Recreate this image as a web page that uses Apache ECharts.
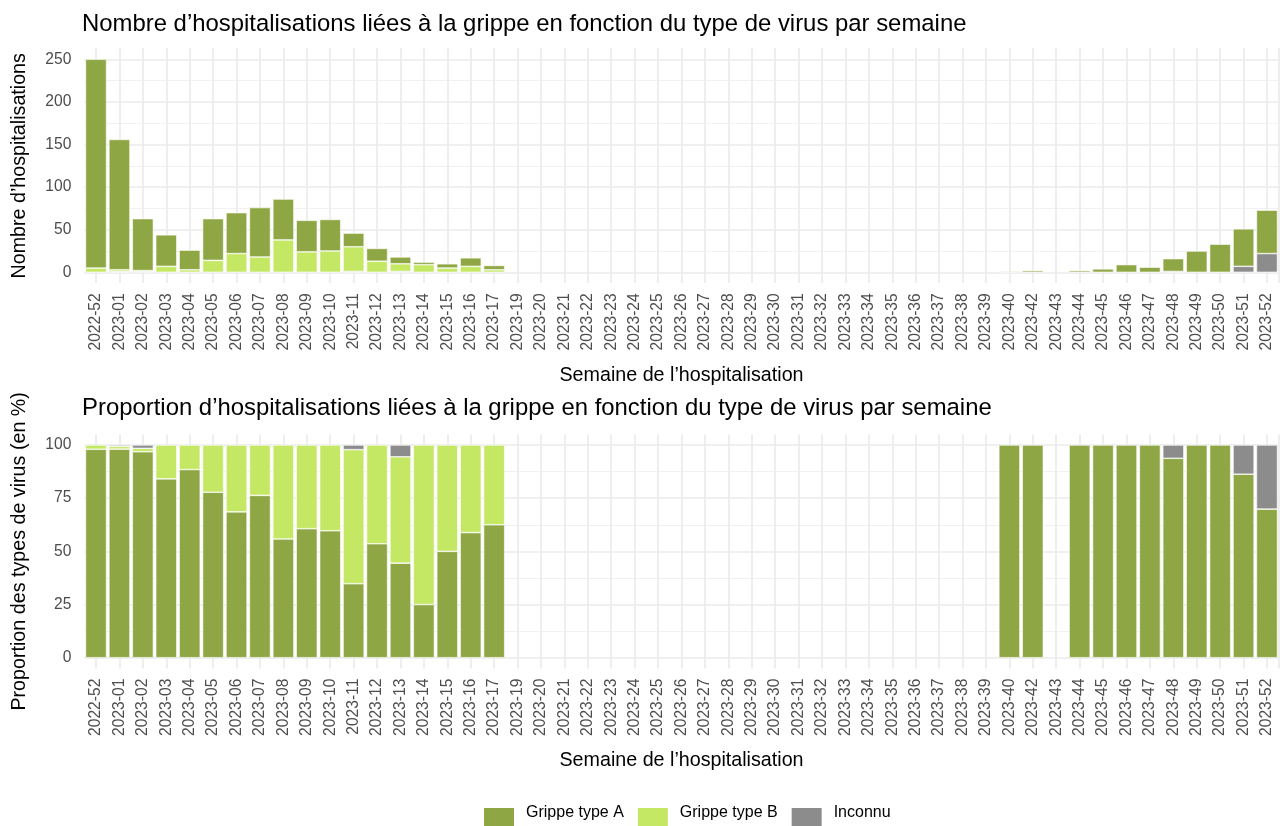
<!DOCTYPE html>
<html>
<head>
<meta charset="utf-8">
<script src="https://cdn.jsdelivr.net/npm/echarts@6/dist/echarts.min.js"></script>
<style>
  html, body { margin: 0; padding: 0; background: #ffffff; }
  #chart { width: 1280px; height: 826px; }
</style>
</head>
<body>
<div id="chart"></div>
<script>
// ---- Data ----
const weeks = [
  '2022-52','2023-01','2023-02','2023-03','2023-04','2023-05','2023-06','2023-07','2023-08','2023-09',
  '2023-10','2023-11','2023-12','2023-13','2023-14','2023-15','2023-16','2023-17','2023-19','2023-20',
  '2023-21','2023-22','2023-23','2023-24','2023-25','2023-26','2023-27','2023-28','2023-29','2023-30',
  '2023-31','2023-32','2023-33','2023-34','2023-35','2023-36','2023-37','2023-38','2023-39','2023-40',
  '2023-42','2023-43','2023-44','2023-45','2023-46','2023-47','2023-48','2023-49','2023-50','2023-51',
  '2023-52'
];
const typeA = [
  245, 153, 61, 37, 23, 49, 48, 58, 48, 37,
  37, 16, 15, 8, 3, 5, 10, 5, 0, 0,
  0, 0, 0, 0, 0, 0, 0, 0, 0, 0,
  0, 0, 0, 0, 0, 0, 0, 0, 0, 1,
  2, 0, 2, 4, 9, 6, 15, 25, 33, 44,
  51
];
const typeB = [
  5, 2, 1, 7, 3, 14, 22, 18, 38, 24,
  25, 29, 13, 9, 9, 5, 7, 3, 0, 0,
  0, 0, 0, 0, 0, 0, 0, 0, 0, 0,
  0, 0, 0, 0, 0, 0, 0, 0, 0, 0,
  0, 0, 0, 0, 0, 0, 0, 0, 0, 0,
  0
];
const inconnu = [
  0, 1, 1, 0, 0, 0, 0, 0, 0, 0,
  0, 1, 0, 1, 0, 0, 0, 0, 0, 0,
  0, 0, 0, 0, 0, 0, 0, 0, 0, 0,
  0, 0, 0, 0, 0, 0, 0, 0, 0, 0,
  0, 0, 0, 0, 0, 0, 1, 0, 0, 7,
  22
];
const seriesNames = ['Grippe type A', 'Grippe type B', 'Inconnu'];
const countTicks = { min: 0, max: 250, interval: 50 };
const pctTicks = { min: 0, max: 100, interval: 25 };

// ---- Styling ----
const colors = { 'Grippe type A': '#8EA644', 'Grippe type B': '#C4E864', 'Inconnu': '#8C8C8C' };
const FONT = "'Liberation Sans', Arial, sans-serif";
const GRID_MAJOR = { color: '#EBEBEB', width: 1.7 };
const GRID_MINOR = { color: '#F1F1F1', width: 1 };
const AXIS_TITLE = { fontSize: 19.7, color: '#000', fontFamily: FONT };
const TICK_LABEL = { fontSize: 15.6, color: '#4D4D4D', fontFamily: FONT };

const totals = weeks.map((_, i) => typeA[i] + typeB[i] + inconnu[i]);
const nz = v => (v > 0 ? v : '-');
const pct = arr => arr.map((v, i) => (totals[i] > 0 && v > 0 ? v / totals[i] * 100 : '-'));
const halfCats = weeks.flatMap(w => [w + '|a', w + '|b']);

const L = 84.3, R = 1.3;
const gridDefs = [
  { left: L, right: R, top: 59.3, bottom: 826 - 272.3 },   // counts data
  { left: L, right: R, top: 48, bottom: 826 - 283 },       // counts background
  { left: L, right: R, top: 445, bottom: 826 - 657.7 },    // pct data
  { left: L, right: R, top: 434.4, bottom: 826 - 668.5 }   // pct background
];

function dataXAxis(gi) {
  return {
    type: 'category', gridIndex: gi, data: weeks, boundaryGap: true,
    axisLine: { show: false }, axisTick: { show: false }, splitLine: { show: false },
    axisLabel: Object.assign({ rotate: 90, interval: 0, margin: 21 }, TICK_LABEL),
    name: 'Semaine de l\u2019hospitalisation', nameLocation: 'middle', nameGap: 93,
    nameTextStyle: AXIS_TITLE
  };
}
function bgXAxis(gi) {
  return {
    type: 'category', gridIndex: gi, data: halfCats, boundaryGap: true,
    axisLine: { show: false }, axisTick: { show: false }, axisLabel: { show: false },
    splitLine: { show: true, interval: (idx) => idx % 2 === 1, lineStyle: GRID_MAJOR }
  };
}
function dataYAxis(gi, ticks, name, nameGap) {
  return {
    type: 'value', gridIndex: gi, min: ticks.min, max: ticks.max, interval: ticks.interval,
    axisLine: { show: false }, axisTick: { show: false },
    axisLabel: Object.assign({ margin: 13 }, TICK_LABEL),
    splitLine: { show: true, lineStyle: GRID_MAJOR },
    minorTick: { show: false, splitNumber: 2 },
    minorSplitLine: { show: true, lineStyle: GRID_MINOR },
    name: name, nameLocation: 'middle', nameRotate: 90, nameGap: nameGap,
    nameTextStyle: AXIS_TITLE
  };
}
function bgYAxis(gi) {
  return { type: 'value', gridIndex: gi, show: false, min: 0, max: 1 };
}

const barStyle = name => ({ color: colors[name], borderColor: '#ffffff', borderWidth: 0.6 });

const topOrder = [['Inconnu', inconnu], ['Grippe type B', typeB], ['Grippe type A', typeA]];
const botOrder = [['Grippe type A', typeA], ['Grippe type B', typeB], ['Inconnu', inconnu]];

const series = [];
topOrder.forEach(([name, arr]) => series.push({
  type: 'bar', name, xAxisIndex: 0, yAxisIndex: 0, stack: 'counts',
  barCategoryGap: '10%', data: arr.map(nz), itemStyle: barStyle(name), animation: false
}));
botOrder.forEach(([name, arr]) => series.push({
  type: 'bar', name, xAxisIndex: 2, yAxisIndex: 2, stack: 'pct',
  barCategoryGap: '10%', data: pct(arr), itemStyle: barStyle(name), animation: false
}));

const TITLE_STYLE = { fontSize: 23.9, fontWeight: 'normal', color: '#000', fontFamily: FONT };

const chart = echarts.init(document.getElementById('chart'), null, { renderer: 'canvas' });
chart.setOption({
  backgroundColor: '#ffffff',
  animation: false,
  textStyle: { fontFamily: FONT },
  title: [
    { text: 'Nombre d\u2019hospitalisations li\u00e9es \u00e0 la grippe en fonction du type de virus par semaine',
      left: 82, top: 12.5, textStyle: TITLE_STYLE, padding: 0 },
    { text: 'Proportion d\u2019hospitalisations li\u00e9es \u00e0 la grippe en fonction du type de virus par semaine',
      left: 82, top: 396.5, textStyle: TITLE_STYLE, padding: 0 }
  ],
  legend: {
    data: seriesNames, left: 482, top: 803, itemWidth: 32, itemHeight: 32, itemGap: 12, icon: 'rect',
    padding: 0,
    formatter: '{name}\n ',
    textStyle: { fontSize: 16, lineHeight: 20, color: '#000', fontFamily: FONT, padding: [0, 0, 0, 6] }
  },
  grid: gridDefs,
  xAxis: [dataXAxis(0), bgXAxis(1), dataXAxis(2), bgXAxis(3)],
  yAxis: [
    dataYAxis(0, countTicks, 'Nombre d\u2019hospitalisations', 55),
    bgYAxis(1),
    dataYAxis(2, pctTicks, 'Proportion des types de virus (en %)', 55),
    bgYAxis(3)
  ],
  series: series
});
</script>
</body>
</html>
